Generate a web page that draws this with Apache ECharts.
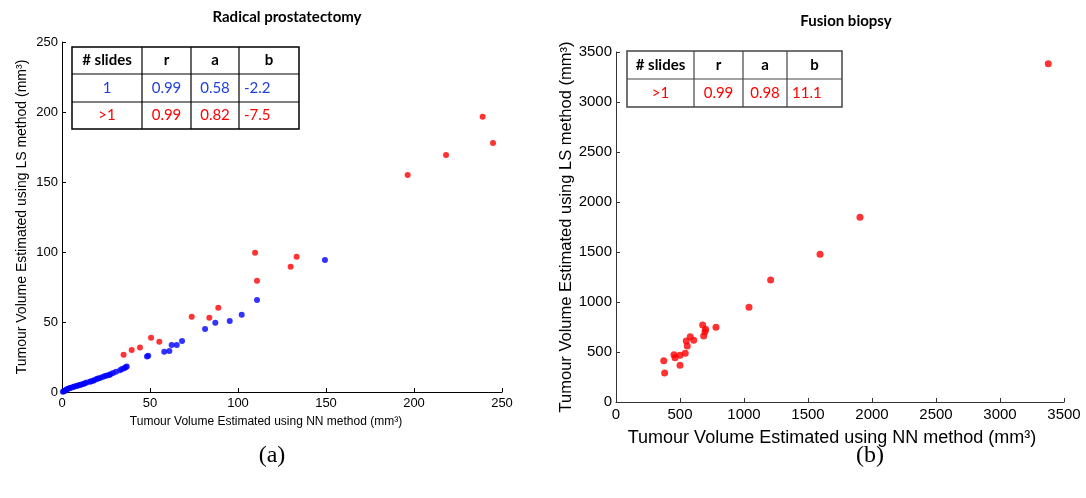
<!DOCTYPE html>
<html>
<head>
<meta charset="utf-8">
<script src="https://cdn.jsdelivr.net/npm/echarts@6/dist/echarts.min.js"></script>
<style>
html,body{margin:0;padding:0;background:#fff;}
#c{width:1086px;height:498px;}
</style>
</head>
<body>
<div id="c"></div>
<script>
// ---- Data ----
const titleLeft = 'Radical prostatectomy';
const titleRight = 'Fusion biopsy';
const xNameText = 'Tumour Volume Estimated using NN method (mm³)';
const yNameText = 'Tumour Volume Estimated using LS method (mm³)';
const panelLabels = ['(a)', '(b)'];

// Left panel: 1 slide (blue)
const leftOneX = [0.5,1.0,1.7,2.2,2.7,3.5,4.5,5.0,6.4,7.0,8.3,9.0,10.2,11.0,12.1,13.0,14.0,15.9,16.5,17.8,18.5,19.7,20.5,21.6,23.0,24.4,25.5,26.9,27.5,29.0,30.7,33.0,34.1,35.3,36.2,36.8,48.3,49.0,58.1,61.0,62.3,65.2,68.2,81.3,87.1,95.3,102.1,110.8,149.4];
const leftOneY = [0.2,0.5,0.9,1.3,1.9,2.3,2.9,3.1,3.6,3.9,4.3,4.7,5.0,5.3,5.7,6.2,6.7,7.4,7.6,8.1,8.6,9.3,9.6,10.0,10.8,11.4,11.7,12.1,12.6,13.5,14.5,15.6,16.4,17.0,17.6,18.2,25.3,25.9,28.8,29.3,33.6,33.6,36.4,45.0,49.5,50.7,55.2,65.7,94.3];
// Left panel: >1 slide (red)
const leftMultiX = [35.0,39.6,44.3,50.6,55.3,73.7,83.7,88.8,109.7,110.8,129.9,133.3,196.4,218.2,239.0,244.9];
const leftMultiY = [26.6,30.0,31.7,38.8,35.9,53.8,53.1,60.2,99.5,79.5,89.5,96.6,155.0,169.3,196.6,177.9];
// Right panel: >1 slide (red)
const rightX = [3377,1906,1594,1208,1039,677,781,700,695,685,580,607,549,557,541,500,453,461,373,500,380];
const rightY = [3383,1847,1477,1220,947,770,747,727,703,660,653,617,610,560,487,467,473,443,413,367,290];

// Tick settings
const leftTicks = {min:0, max:250, interval:50};
const rightTicks = {min:0, max:3500, interval:500};

// Tables
const tableHeader = ['# slides','r','a','b'];
const leftTableRows = [['1','0.99','0.58','-2.2'],['>1','0.99','0.82','-7.5']];
const leftTableColors = ['#1f3fe0','#ff0000'];
const rightTableRows = [['>1','0.99','0.98','11.1']];
const rightTableColors = ['#ff0000'];

// ---- Helpers ----
function zip(xs, ys){ return xs.map((x,i)=>[x, ys[i]]); }

function buildTable(colX, rowY, rows, colors, borderColor){
  const els = [];
  const x0 = colX[0], x1 = colX[colX.length-1];
  const y0 = rowY[0], y1 = rowY[rowY.length-1];
  els.push({type:'rect', shape:{x:x0, y:y0, width:x1-x0, height:y1-y0}, style:{fill:'#fff', stroke:borderColor, lineWidth:1.5}, z:10});
  for (let i=1;i<colX.length-1;i++) els.push({type:'line', shape:{x1:colX[i], y1:y0, x2:colX[i], y2:y1}, style:{stroke:borderColor, lineWidth:1.2}, z:11});
  for (let j=1;j<rowY.length-1;j++) els.push({type:'line', shape:{x1:x0, y1:rowY[j], x2:x1, y2:rowY[j]}, style:{stroke:borderColor, lineWidth:1.2}, z:11});
  const allRows = [tableHeader].concat(rows);
  allRows.forEach((row, r) => {
    row.forEach((txt, c) => {
      const isHeader = r === 0;
      const leftAlign = !isHeader && c === 3;
      els.push({type:'text', z:12,
        x: leftAlign ? colX[c] + 5 : (colX[c]+colX[c+1])/2,
        y: (rowY[r]+rowY[r+1])/2,
        style:{text:txt, fill: isHeader ? '#000' : colors[r-1],
          font: (isHeader ? 'bold ' : '') + '15px Lato, "Open Sans", sans-serif',
          align: leftAlign ? 'left' : 'center', verticalAlign:'middle'}});
    });
  });
  return els;
}

const axisFont = 'Liberation Sans';
function xAxisCfg(idx, t, fs, nameFs, gap, col, pad){
  return {gridIndex:idx, type:'value', min:t.min, max:t.max, interval:t.interval,
    name:xNameText, nameLocation:'middle', nameGap:gap,
    nameTextStyle:{fontFamily:axisFont, fontSize:nameFs, color:'#000', padding:pad},
    axisLine:{show:true, lineStyle:{color:col, width:1}},
    axisTick:{show:true, inside:true, length:4, lineStyle:{color:col}},
    axisLabel:{fontFamily:axisFont, fontSize:fs, color:'#000', margin:5, formatter:(v)=>String(v)},
    splitLine:{show:false}};
}
function yAxisCfg(idx, t, fs, nameFs, gap, col){
  return {gridIndex:idx, type:'value', min:t.min, max:t.max, interval:t.interval,
    name:yNameText, nameLocation:'middle', nameGap:gap, nameRotate:90,
    nameTextStyle:{fontFamily:axisFont, fontSize:nameFs, color:'#000'},
    axisLine:{show:true, lineStyle:{color:col, width:1}},
    axisTick:{show:true, inside:true, length:4, lineStyle:{color:col}},
    axisLabel:{fontFamily:axisFont, fontSize:fs, color:'#000', margin:4, formatter:(v)=>String(v)},
    splitLine:{show:false}};
}

const chart = echarts.init(document.getElementById('c'), null, {renderer:'canvas'});
const option = {
  backgroundColor:'#fff',
  animation:false,
  title:[
    {text:titleLeft, left:282, top:5, textAlign:'center', textStyle:{fontFamily:'Lato, sans-serif', fontWeight:'bold', fontSize:15, color:'#000'}},
    {text:titleRight, left:841, top:9, textAlign:'center', textStyle:{fontFamily:'Lato, sans-serif', fontWeight:'bold', fontSize:15, color:'#000'}}
  ],
  grid:[
    {left:62, top:42, width:440, height:350},
    {left:616, top:52, width:448, height:350}
  ],
  xAxis:[ xAxisCfg(0, leftTicks, 13, 12, 24, '#000', [0,32,0,0]), xAxisCfg(1, rightTicks, 15, 18, 27, '#333', [0,16,0,0]) ],
  yAxis:[ yAxisCfg(0, leftTicks, 13, 14, 33, '#000'), yAxisCfg(1, rightTicks, 15, 16.5, 35, '#333') ],
  series:[
    {type:'scatter', xAxisIndex:0, yAxisIndex:0, data:zip(leftOneX, leftOneY), symbolSize:6, itemStyle:{color:'#0000ff'}},
    {type:'scatter', xAxisIndex:0, yAxisIndex:0, data:zip(leftMultiX, leftMultiY), symbolSize:6, itemStyle:{color:'#ff0000'}},
    {type:'scatter', xAxisIndex:1, yAxisIndex:1, data:zip(rightX, rightY), symbolSize:7, itemStyle:{color:'#ff0000'}}
  ],
  graphic: [].concat(
    buildTable([72,142,191,239,299],[47,74,102,129], leftTableRows, leftTableColors, '#000'),
    buildTable([627,694,743,787,842],[51,79,107], rightTableRows, rightTableColors, '#444'),
    [
      {type:'text', x:272, y:456, style:{text:panelLabels[0], font:'24px "Liberation Serif", serif', fill:'#000', align:'center', verticalAlign:'middle'}},
      {type:'text', x:870, y:456, style:{text:panelLabels[1], font:'24px "Liberation Serif", serif', fill:'#000', align:'center', verticalAlign:'middle'}}
    ]
  )
};
chart.setOption(option);
</script>
</body>
</html>
